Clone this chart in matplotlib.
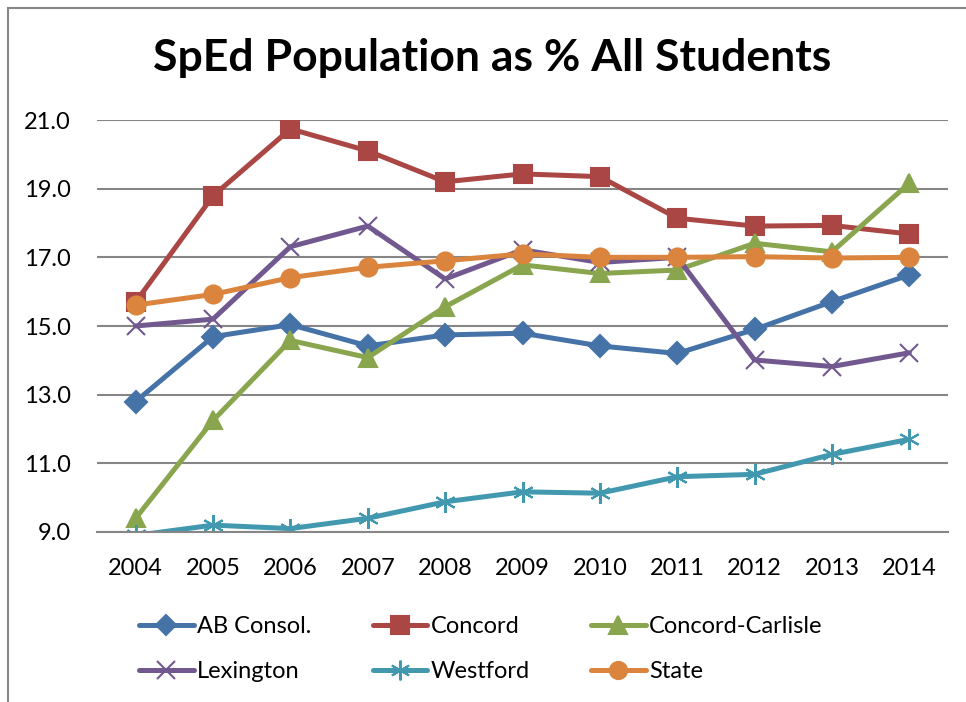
import matplotlib.pyplot as plt
import matplotlib.patches as patches

years = ["2004", "2005", "2006", "2007", "2008", "2009", "2010", "2011", "2012", "2013", "2014"]

ab_consol = [12.8, 14.69, 15.04, 14.42, 14.74, 14.79, 14.42, 14.2, 14.9, 15.71, 16.49]
concord = [15.7, 18.79, 20.74, 20.1, 19.2, 19.43, 19.35, 18.14, 17.91, 17.93, 17.68]
concord_carlisle = [9.4, 12.25, 14.58, 14.08, 15.56, 16.78, 16.53, 16.63, 17.41, 17.16, 19.16]
lexington = [15.0, 15.2, 17.31, 17.91, 16.37, 17.22, 16.85, 17.0, 14.01, 13.82, 14.22]
westford = [8.9, 9.2, 9.1, 9.4, 9.88, 10.17, 10.13, 10.61, 10.68, 11.26, 11.7]
state = [15.61, 15.92, 16.41, 16.71, 16.9, 17.1, 17.0, 17.0, 17.02, 16.98, 17.0]

yticks = [9.0, 11.0, 13.0, 15.0, 17.0, 19.0, 21.0]

plt.rcParams["font.family"] = ["Lato", "DejaVu Sans"]

W, H = 966, 702
fig = plt.figure(figsize=(W / 100, H / 100), dpi=100)
ax = fig.add_axes([97 / W, 1 - 532 / H, 851 / W, 412 / H])

x = list(range(len(years)))
series = [
    ("AB Consol.", ab_consol, "#4572A7", "D", 11),
    ("Concord", concord, "#AA4643", "s", 13),
    ("Concord-Carlisle", concord_carlisle, "#89A54E", "^", 13),
    ("Lexington", lexington, "#71588F", "x", 13),
    ("Westford", westford, "#4198AF", (6, 2, 0), 15),
    ("State", state, "#DB843D", "o", 13),
]

handles = {}
for name, vals, color, marker, ms in series:
    (ln,) = ax.plot(
        x,
        vals,
        "-",
        color=color,
        lw=3.6,
        marker=marker,
        markersize=ms,
        markeredgecolor=color,
        markeredgewidth=1.5,
        label=name,
        solid_capstyle="round",
    )
    handles[name] = ln

ax.set_xlim(-0.5, len(years) - 0.5)
ax.set_ylim(9, 21)
ax.set_yticks(yticks)
ax.set_yticklabels([f"{v:.1f}" for v in yticks])
ax.set_xticks(x)
ax.set_xticklabels(years)
ax.yaxis.grid(True, color="#868686", lw=1.5)
ax.set_axisbelow(True)
for s in ["top", "right", "left"]:
    ax.spines[s].set_visible(False)
ax.spines["bottom"].set_color("#868686")
ax.spines["bottom"].set_linewidth(1.5)
ax.tick_params(axis="both", length=0, labelsize=17)
ax.tick_params(axis="x", pad=19)
ax.tick_params(axis="y", pad=19)

fig.text(492 / W, 1 - 58 / H, "SpEd Population as % All Students",
         ha="center", va="center", fontsize=32, fontweight="bold")

order = ["AB Consol.", "Lexington", "Concord", "Westford", "Concord-Carlisle", "State"]
fig.legend(
    [handles[n] for n in order],
    order,
    loc="center left",
    bbox_to_anchor=(118 / W, 1 - 649 / H),
    ncol=3,
    frameon=False,
    fontsize=17,
    handlelength=2.3,
    handletextpad=0.15,
    columnspacing=2.6,
    labelspacing=1.0,
    markerscale=0.95,
)

fig.patches.append(patches.Rectangle((8 / W, -0.1), 1.2, 1.1 - 8 / H,
                                     transform=fig.transFigure, fill=False,
                                     edgecolor="#868686", lw=1.5))

fig.savefig("out.png", dpi=100)
